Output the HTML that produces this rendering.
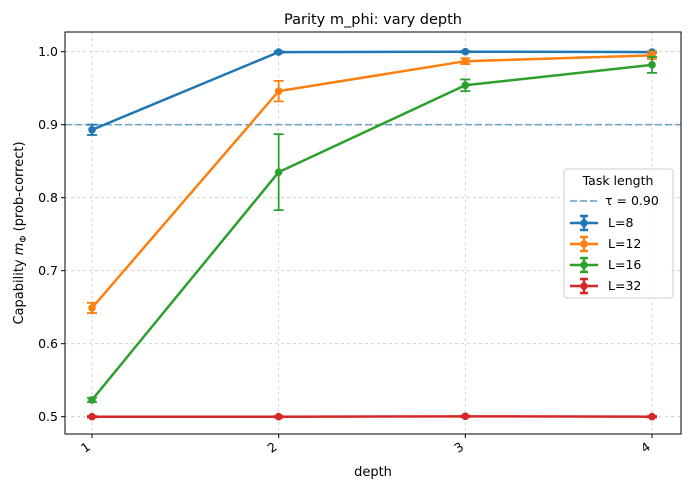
<!DOCTYPE html>
<html><head><meta charset="utf-8"><style>
body{margin:0;background:#fff;font-family:"Liberation Sans","DejaVu Sans",sans-serif;}
svg text{font-family:"DejaVu Sans","Liberation Sans",sans-serif;}
</style></head><body>
<svg id="c" width="690" height="490" xmlns="http://www.w3.org/2000/svg"></svg>
<script>
const depths=[1,2,3,4];
const labels=["L=8","L=12","L=16","L=32"];
const colors=["#1f77b4","#ff7f0e","#2ca02c","#d62728"];
const valsL8=[0.893,0.9995,1.0,0.9995];
const errL8=[0.007,0.001,0.001,0.001];
const valsL12=[0.649,0.946,0.987,0.995];
const errL12=[0.007,0.014,0.004,0.005];
const valsL16=[0.523,0.835,0.954,0.982];
const errL16=[0.003,0.052,0.008,0.011];
const valsL32=[0.5,0.5,0.5005,0.5];
const errL32=[0.001,0.001,0.001,0.001];
const yTicks=[0.5,0.6,0.7,0.8,0.9,1.0];
const tau=0.9;
const series=[valsL8,valsL12,valsL16,valsL32];
const errs=[errL8,errL12,errL16,errL32];
const L=65,R=681,T=32,B=434;
const xs=d=>92+(d-1)*(652-92)/3;
const ys=v=>416.7-(v-0.5)*730;
const svg=document.getElementById('c');
const NS='http://www.w3.org/2000/svg';
function el(t,a,txt){const e=document.createElementNS(NS,t);for(const k in a)e.setAttribute(k,a[k]);if(txt!==undefined)e.textContent=txt;svg.appendChild(e);return e;}
depths.forEach(d=>{const g=el('line',{x1:xs(d),x2:xs(d),y1:T,y2:B,stroke:'#cccccc','stroke-dasharray':'3,3','stroke-width':0.8});
});
yTicks.forEach(v=>{const g=el('line',{x1:L,x2:R,y1:ys(v),y2:ys(v),stroke:'#cccccc','stroke-dasharray':'3,3','stroke-width':0.8});
});
const tl=el('line',{x1:L,x2:R,y1:ys(tau),y2:ys(tau),stroke:'#1f77b4','stroke-opacity':0.6,'stroke-dasharray':'7,3','stroke-width':1.7});

series.forEach((s,i)=>{
 const c=colors[i];
 s.forEach((v,j)=>{const x=xs(depths[j]),e=errs[i][j];
  const eb=el('path',{d:`M${x},${ys(v+e)}V${ys(v-e)}M${x-5},${ys(v+e)}h10M${x-5},${ys(v-e)}h10`,stroke:c,'stroke-width':1.8,fill:'none'});
  });
 const p=el('polyline',{points:s.map((v,j)=>xs(depths[j])+','+ys(v)).join(' '),stroke:c,'stroke-width':2.5,fill:'none'});
 
 s.forEach((v,j)=>{const m=el('circle',{cx:xs(depths[j]),cy:ys(v),r:3.8,fill:c});
  });
});
const fr=el('rect',{x:L,y:T,width:R-L,height:B-T,fill:'none',stroke:'#000','stroke-width':1});

yTicks.forEach(v=>{el('line',{x1:L-4,x2:L,y1:ys(v),y2:ys(v),stroke:'#000'});
 const t=el('text',{x:L-7,y:ys(v)+4.5,'text-anchor':'end','font-size':12.5},v.toFixed(1));
 });
depths.forEach(d=>{el('line',{x1:xs(d),x2:xs(d),y1:B,y2:B+4,stroke:'#000'});
 const t=el('text',{x:xs(d)-4,y:B+17,'text-anchor':'middle','font-size':12.5,transform:`rotate(-35 ${xs(d)-4} ${B+17})`},d);
 });
</script>
<svg style="position:absolute;left:0;top:0" width="690" height="490" xmlns="http://www.w3.org/2000/svg">
<text x="373" y="24" text-anchor="middle" font-size="14.5">Parity m_phi: vary depth</text>
<text x="373" y="476" text-anchor="middle" font-size="13">depth</text>
<text transform="rotate(-90 23 233)" x="23" y="233" text-anchor="middle" font-size="13">Capability <tspan font-style="italic">m</tspan><tspan font-size="9" dy="3">Φ</tspan><tspan dy="-3"> (prob-correct)</tspan></text>
<g>
<rect x="564" y="169" width="109" height="129" rx="3" fill="#fff" fill-opacity="0.85" stroke="#ccc"/>
<text x="618" y="185" text-anchor="middle" font-size="12.5">Task length</text>
<line x1="570" y1="201" x2="597" y2="201" stroke="#1f77b4" stroke-opacity="0.6" stroke-width="1.7" stroke-dasharray="7,3"/>
<text x="605" y="205" font-size="12.5">τ = 0.90</text>
<g><path d="M570,223h28M584,216v14M580,216h8M580,230h8" stroke="#1f77b4" stroke-width="2.5"/><circle cx="584" cy="223" r="3.8" fill="#1f77b4"/><text x="608" y="227" font-size="12.5">L=8</text></g>
<g><path d="M570,244h28M584,237v14M580,237h8M580,251h8" stroke="#ff7f0e" stroke-width="2.5"/><circle cx="584" cy="244" r="3.8" fill="#ff7f0e"/><text x="608" y="248" font-size="12.5">L=12</text></g>
<g><path d="M570,265h28M584,258v14M580,258h8M580,272h8" stroke="#2ca02c" stroke-width="2.5"/><circle cx="584" cy="265" r="3.8" fill="#2ca02c"/><text x="608" y="269" font-size="12.5">L=16</text></g>
<g><path d="M570,286h28M584,279v14M580,279h8M580,293h8" stroke="#d62728" stroke-width="2.5"/><circle cx="584" cy="286" r="3.8" fill="#d62728"/><text x="608" y="290" font-size="12.5">L=32</text></g>
</g>
</svg>
</body></html>
